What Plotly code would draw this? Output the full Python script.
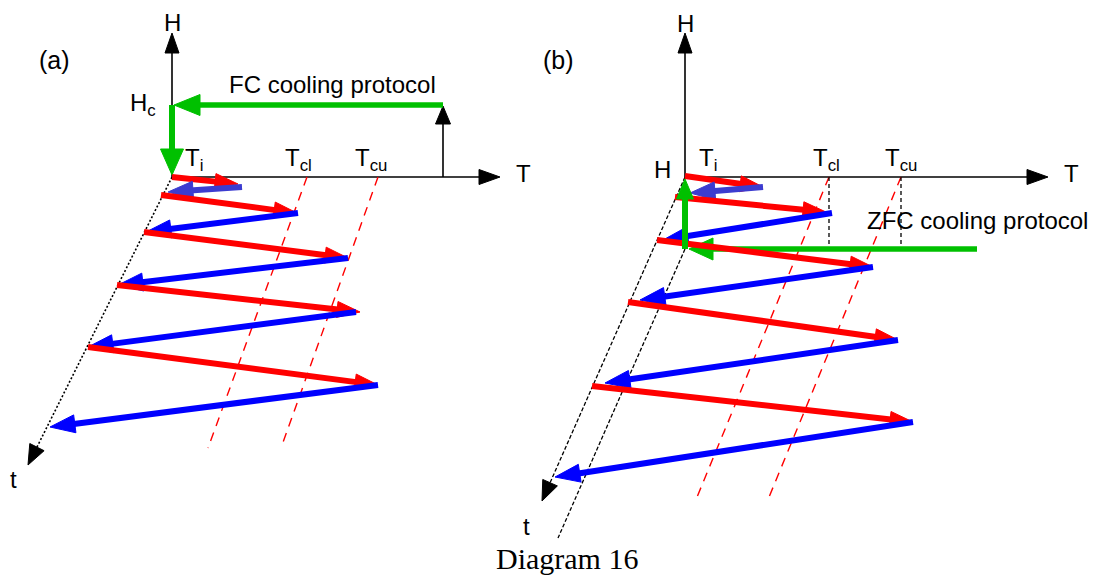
import numpy as np
import plotly.graph_objects as go

W, H = 1094, 578

# ---------------- data (pixel coordinates of the schematic) ----------------
# Panel (a): warming (red) and cooling (blue) steps
red_a_x0 = [172, 161, 144, 117, 88]
red_a_y0 = [177, 195, 232, 285, 347]
red_a_x1 = [238, 297, 348, 360, 378]
red_a_y1 = [184, 213, 258, 312, 385]
blue_a_x0 = [242, 298, 348, 356, 378]
blue_a_y0 = [187, 213, 258, 312, 385]
blue_a_x1 = [168, 146, 118, 88, 50]
blue_a_y1 = [192, 232, 285, 347, 427]

# Panel (b)
red_b_x0 = [685, 675, 657, 628, 592]
red_b_y0 = [176, 197, 240, 302, 386]
red_b_x1 = [763, 826, 873, 898, 913]
red_b_y1 = [187, 212, 267, 340, 422]
blue_b_x0 = [763, 832, 873, 898, 913]
blue_b_y0 = [187, 213, 267, 340, 422]
blue_b_x1 = [690, 663, 640, 605, 555]
blue_b_y1 = [193, 240, 300, 383, 477]

# axes: origin, H tip, T tip, t tip
axis_a = dict(ox=172, oy=177, htop=33, tright=500, tx=28, ty=465)
axis_b = dict(ox=685, oy=177, htop=33, tright=1048, tx=542, ty=501)

# critical temperature lines (top x on T axis, bottom end)
tc_a_top = [307, 378]
tc_a_bot_x = [208, 281]
tc_b_top = [829, 901]
tc_b_bot_x = [695, 767]
tc_bot_y = [448, 502]

labels_T_a = ["T<sub>i</sub>", "T<sub>cl</sub>", "T<sub>cu</sub>"]
labels_T_a_x = [183, 283, 353]
labels_T_b_x = [697, 811, 883]

RED, BLUE, BLUE_L, GREEN, BLACK = "#ff0000", "#0000ff", "#3c3cd0", "#00c000", "#000000"

fig = go.Figure()


def line(x, y, color, width, dash=None):
    fig.add_trace(go.Scatter(x=x, y=y, mode="lines",
                             line=dict(color=color, width=width, dash=dash),
                             hoverinfo="skip", showlegend=False))


def arrow(x0, y0, x1, y1, color, width, hl, hw, dash=None):
    dx, dy = x1 - x0, y1 - y0
    L = float(np.hypot(dx, dy))
    ux, uy = dx / L, dy / L
    bx, by = x1 - ux * hl, y1 - uy * hl
    nx, ny = -uy, ux
    line([x0, bx + ux * 3], [y0, by + uy * 3], color, width, dash)
    fig.add_trace(go.Scatter(
        x=[x1, bx + nx * hw / 2, bx - nx * hw / 2, x1],
        y=[y1, by + ny * hw / 2, by - ny * hw / 2, y1],
        mode="lines", fill="toself", fillcolor=color,
        line=dict(color=color, width=1), hoverinfo="skip", showlegend=False))


# ---------------- panel (a) ----------------
a = axis_a
arrow(a["ox"], a["oy"], a["ox"], a["htop"], BLACK, 1.6, 20, 14)
arrow(a["ox"], a["oy"], a["tright"], a["oy"], BLACK, 1.6, 21, 15)
arrow(a["ox"], a["oy"], a["tx"], a["ty"], BLACK, 1.6, 20, 16, dash="2px,2px")
for xt, xb in zip(tc_a_top, tc_a_bot_x):
    line([xt, xb], [a["oy"], tc_bot_y[0]], RED, 1.4, dash="9px,7px")
# FC protocol: field raised at high T, then cooled in field
arrow(443, a["oy"], 443, 106, BLACK, 1.6, 18, 15)
arrow(443, 105, 174, 105, GREEN, 5.5, 26, 21)
arrow(172, 105, 172, 175, GREEN, 6, 26, 23)
for i in range(5):
    arrow(red_a_x0[i], red_a_y0[i], red_a_x1[i], red_a_y1[i], RED, 6, 23, 16)
    arrow(blue_a_x0[i], blue_a_y0[i], blue_a_x1[i], blue_a_y1[i],
          BLUE_L if i == 0 else BLUE, 6, 25, 18)

# ---------------- panel (b) ----------------
b = axis_b
arrow(b["ox"], b["oy"], b["ox"], b["htop"], BLACK, 1.6, 20, 14)
arrow(b["ox"], b["oy"], b["tright"], b["oy"], BLACK, 1.6, 21, 15)
arrow(b["ox"], b["oy"], b["tx"], b["ty"], BLACK, 1.3, 20, 16, dash="4px,2px")
line([685, 558], [249, 538], BLACK, 1.3, dash="4px,2px")
for xt, xb in zip(tc_b_top, tc_b_bot_x):
    line([xt, xb], [b["oy"], tc_bot_y[1]], RED, 1.4, dash="9px,7px")
    line([xt, xt], [b["oy"], 249], BLACK, 1.3, dash="4px,3px")
arrow(977, 249, 689, 249, GREEN, 5.5, 24, 22)
for i in range(5):
    arrow(red_b_x0[i], red_b_y0[i], red_b_x1[i], red_b_y1[i], RED, 6, 23, 16)
    arrow(blue_b_x0[i], blue_b_y0[i], blue_b_x1[i], blue_b_y1[i],
          BLUE_L if i == 0 else BLUE, 6, 25, 18)
arrow(685, 249, 685, 179, GREEN, 6, 20, 17)

# ---------------- texts ----------------
SANS = "Liberation Sans, Arial, sans-serif"


def text(x, y, s, size=24, xanchor="center", family=SANS):
    fig.add_annotation(x=x, y=y, text=s, showarrow=False, xanchor=xanchor,
                       yanchor="middle", font=dict(family=family, size=size, color=BLACK))


text(54, 60, "(a)", 25)
text(558, 60, "(b)", 25)
text(172, 22, "H")
text(685, 23, "H")
text(128, 104, "H<sub>c</sub>", xanchor="left")
text(652, 169, "H", xanchor="left")
text(514, 173, "T", xanchor="left")
text(1062, 173, "T", xanchor="left")
text(13, 479, "t")
text(526, 526, "t")
for s, xa, xb in zip(labels_T_a, labels_T_a_x, labels_T_b_x):
    text(xa, 159, s, xanchor="left")
    text(xb, 159, s, xanchor="left")
text(332, 84, "FC cooling protocol")
text(977, 220, "ZFC cooling protocol")
fig.add_annotation(x=567, y=577, text="Diagram 16", showarrow=False, xanchor="center",
                   yanchor="bottom", yshift=0,
                   font=dict(family="Liberation Serif, Times New Roman, serif", size=30, color=BLACK))

fig.update_layout(
    width=W, height=H, autosize=False,
    margin=dict(l=0, r=0, t=0, b=0, pad=0),
    paper_bgcolor="white", plot_bgcolor="white", showlegend=False,
    xaxis=dict(range=[0, W], visible=False, fixedrange=True),
    yaxis=dict(range=[H, 0], visible=False, fixedrange=True),
)
fig.write_html("out.html", config={"displayModeBar": False, "staticPlot": True})
